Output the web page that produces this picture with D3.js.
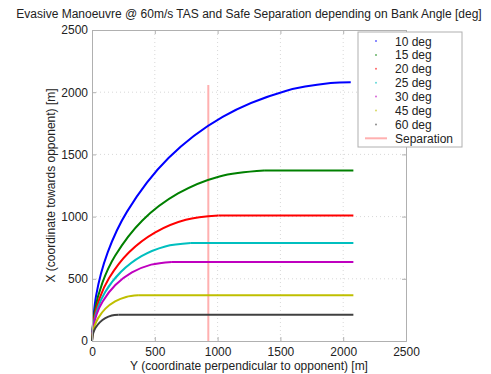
<!DOCTYPE html>
<html><head><meta charset="utf-8">
<script src="https://cdn.jsdelivr.net/npm/d3@7"></script>
<style>
body{margin:0;background:#fff;}
text{font-family:"Liberation Sans",Arial,sans-serif;fill:#222;}
</style></head><body>
<svg id="c" width="491" height="374"></svg>
<script>
const titleText = "Evasive Manoeuvre @ 60m/s TAS and Safe Separation depending on Bank Angle [deg]";
const xLabel = "Y (coordinate perpendicular to opponent) [m]";
const yLabel = "X (coordinate towards opponent) [m]";
const ticks = [0, 500, 1000, 1500, 2000, 2500];
const seriesNames = ["10 deg", "15 deg", "20 deg", "25 deg", "30 deg", "45 deg", "60 deg"];
const seriesColors = ["#0000ff", "#008000", "#ff0000", "#00bfbf", "#bf00bf", "#bfbf00", "#404040"];
// points: [Y, X]
const deg10 = [[0,0],[32,361],[125,712],[279,1040],[609,1471],[1040,1802],[1542,2010],[1900,2073],[2060,2080]];
const deg15 = [[0,0],[21,238],[83,469],[184,685],[401,969],[685,1186],[1015,1323],[1370,1370],[2081,1370]];
const deg20 = [[0,0],[15,175],[61,345],[135,504],[295,713],[504,873],[747,974],[1008,1008],[2081,1008]];
const deg25 = [[0,0],[12,137],[47,269],[105,394],[231,556],[394,682],[583,760],[787,787],[2081,787]];
const deg30 = [[0,0],[10,110],[38,218],[85,318],[186,450],[318,551],[471,614],[636,636],[2081,636]];
const deg45 = [[0,0],[6,64],[22,126],[49,184],[107,260],[184,318],[272,354],[367,367],[2081,367]];
const deg60 = [[0,0],[3,37],[13,73],[28,106],[62,150],[106,184],[157,205],[212,212],[2081,212]];
const separation = [[926,0],[926,2058]];
const separationName = "Separation";

const series = [deg10, deg15, deg20, deg25, deg30, deg45, deg60];
const svg = d3.select("#c");
const L = 92, R = 406, T = 30, B = 341;
const x = d3.scaleLinear().domain([0,2500]).range([L,R]);
const y = d3.scaleLinear().domain([0,2500]).range([B,T]);

// grid
const g = svg.append("g");
ticks.slice(1,-1).forEach(t=>{
  g.append("line").attr("x1",x(t)).attr("x2",x(t)).attr("y1",T).attr("y2",B)
   .attr("stroke","#d8d8d8").attr("stroke-dasharray","1,3");
  g.append("line").attr("y1",y(t)).attr("y2",y(t)).attr("x1",L).attr("x2",R)
   .attr("stroke","#d8d8d8").attr("stroke-dasharray","1,3");
});

// separation line
svg.append("line").attr("x1",x(separation[0][0])).attr("x2",x(separation[1][0]))
  .attr("y1",y(separation[0][1])).attr("y2",y(separation[1][1]))
  .attr("stroke","#ffb0b0").attr("stroke-width",2);

const arcLine = d3.line().x(d=>x(d[0])).y(d=>y(d[1])).curve(d3.curveCatmullRom.alpha(0.5));
const straight = d3.line().x(d=>x(d[0])).y(d=>y(d[1]));
series.forEach((s,i)=>{
  const arcPart = i === 0 ? s : s.slice(0, -1);
  const tail = i === 0 ? null : s.slice(-2);
  svg.append("path").attr("d",arcLine(arcPart)).attr("fill","none")
    .attr("stroke",seriesColors[i]).attr("stroke-width",2);
  if (tail) svg.append("path").attr("d",straight(tail)).attr("fill","none")
    .attr("stroke",seriesColors[i]).attr("stroke-width",2);
});

// axes box
const fmt = d3.format("d");
const axB = d3.axisBottom(x).tickValues(ticks).tickSize(-4).tickPadding(6).tickFormat(fmt);
const axL = d3.axisLeft(y).tickValues(ticks).tickSize(-4).tickPadding(4).tickFormat(fmt);
const gx = svg.append("g").attr("transform",`translate(0,${B})`).call(axB);
const gy = svg.append("g").attr("transform",`translate(${L},0)`).call(axL);
const gxt = svg.append("g").attr("transform",`translate(0,${T})`).call(d3.axisTop(x).tickValues(ticks).tickSize(-4).tickFormat(""));
const gyr = svg.append("g").attr("transform",`translate(${R},0)`).call(d3.axisRight(y).tickValues(ticks).tickSize(-4).tickFormat(""));
[gx,gy,gxt,gyr].forEach(a=>{
  a.select(".domain").attr("stroke","#b0b0b0");
  a.selectAll(".tick line").attr("stroke","#b0b0b0");
  a.selectAll("text").attr("font-size",12).attr("fill","#222").attr("font-family","Liberation Sans, Arial, sans-serif");
});

svg.append("text").attr("x",249).attr("y",18).attr("text-anchor","middle").attr("font-size",12).text(titleText);
svg.append("text").attr("x",249).attr("y",370).attr("text-anchor","middle").attr("font-size",12).text(xLabel);
svg.append("text").attr("transform",`translate(55,${(T+B)/2}) rotate(-90)`).attr("text-anchor","middle").attr("font-size",12).text(yLabel);

// legend
const lg = svg.append("g");
lg.append("rect").attr("x",358).attr("y",32).attr("width",104).attr("height",115)
  .attr("fill","#fff").attr("stroke","#b0b0b0");
seriesNames.forEach((n,i)=>{
  const yy = 41 + i*13.9;
  lg.append("circle").attr("cx",376).attr("cy",yy).attr("r",1).attr("fill",seriesColors[i]).attr("opacity",0.6);
  lg.append("text").attr("x",395).attr("y",yy+4.5).attr("font-size",12).text(n);
});
const ys = 41 + 7*13.9;
lg.append("line").attr("x1",365).attr("x2",387).attr("y1",ys).attr("y2",ys).attr("stroke","#ffb0b0").attr("stroke-width",2);
lg.append("text").attr("x",395).attr("y",ys+4.5).attr("font-size",12).text(separationName);
</script></body></html>
